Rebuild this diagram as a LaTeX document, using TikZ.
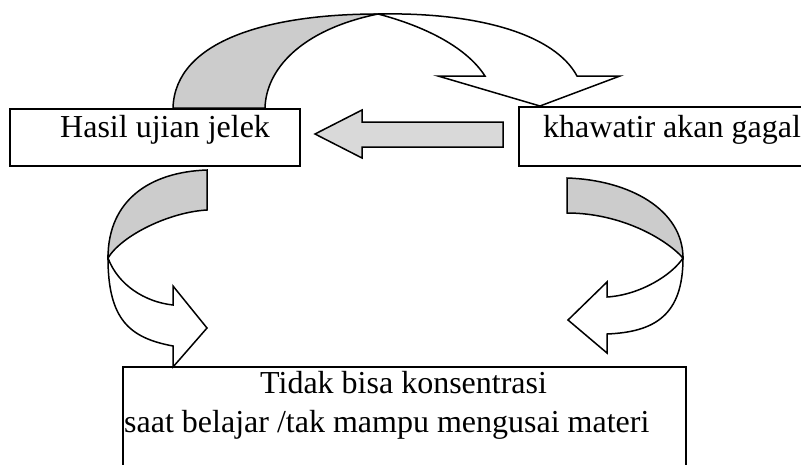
\documentclass[tikz,border=0pt]{standalone}
\usepackage{fontspec}
\setmainfont{Liberation Serif}
\begin{document}
\begin{tikzpicture}[x=1pt,y=-1pt,
  box/.style={draw=black, line width=1.6pt, inner sep=0pt},
  lbl/.style={font=\fontsize{32}{38}\selectfont, inner sep=0pt, anchor=base west},
  ribbon/.style={draw=black, line width=1.5pt, line join=miter},
  back/.style={ribbon, fill=black!20},
  front/.style={ribbon, fill=white},
  flat/.style={ribbon, fill=black!15}]
\clip (0,0) rectangle (801,464);
\fill[white] (0,0) rectangle (801,464);

% boxes
\node[box, minimum width=290, minimum height=57] (b1) at (155,137.5) {};
\node[box, minimum width=301, minimum height=59] (b2) at (669.5,136.5) {};
\node[box, minimum width=563, minimum height=113] (b3) at (404.5,423.5) {};

% texts
\node[lbl] (t1) at (60,137) {Hasil ujian jelek};
\node[lbl] (t2) at (543,137) {khawatir akan gagal};
\node[lbl] (t3) at (260,393) {Tidak bisa konsentrasi};
\node[lbl] (t4) at (124,432) {saat belajar /tak mampu mengusai materi};

% top curved arrow (b1 -> b2)
\coordinate (ta) at (378,14);
\path[back] (173,108) .. controls (175,40) and (270,14) .. (ta)
  .. controls (300,30) and (266,70) .. (265,108) -- cycle;
\path[front] (ta) .. controls (480,12) and (555,35) .. (577,76)
  -- (620,76) -- (540,106) -- (438,76) -- (485,76)
  .. controls (465,45) and (420,25) .. (ta) -- cycle;

% middle straight arrow (b2 -> b1)
\path[flat] (503,122) -- (362,122) -- (362,110) -- (315,134)
  -- (362,158) -- (362,147) -- (503,147) -- cycle;

% left curved arrow (b1 -> b3)
\coordinate (la) at (108,258);
\path[back] (207,170) .. controls (150,172) and (108,200) .. (la)
  .. controls (122,235) and (170,212) .. (207,210) -- cycle;
\path[front] (la) .. controls (108,320) and (130,338) .. (173,346)
  -- (173,367) -- (207,328) -- (173,286) -- (173,305)
  .. controls (145,302) and (118,285) .. (la) -- cycle;

% right curved arrow (b2 -> b3)
\coordinate (ra) at (683,258);
\path[back] (567,178) .. controls (630,180) and (683,210) .. (ra)
  .. controls (665,238) and (620,213) .. (567,213) -- cycle;
\path[front] (ra) .. controls (683,315) and (655,332) .. (607,334)
  -- (607,353) -- (568,320) -- (607,282) -- (607,297)
  .. controls (640,295) and (672,275) .. (ra) -- cycle;
\end{tikzpicture}
\end{document}
